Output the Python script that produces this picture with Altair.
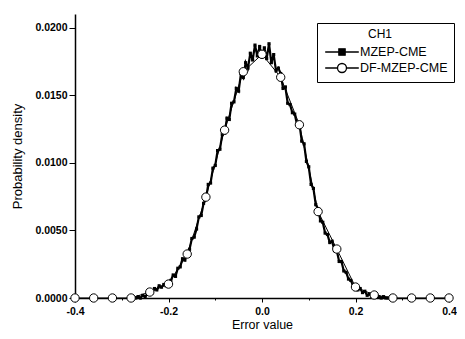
import altair as alt
import pandas as pd

# MZEP-CME histogram (noisy), x from -0.27 step 0.005
mzep_y = [
    0.0000, 0.0001, 0.0000, 0.0002, 0.0001, 0.0003, 0.0004, 0.0004, 0.0007, 0.0006,
    0.0009, 0.0008, 0.0010, 0.0009, 0.0012, 0.0013, 0.0017, 0.0016, 0.0022, 0.0023,
    0.0029, 0.0028, 0.0034, 0.0036, 0.0044, 0.0045, 0.0051, 0.0060, 0.0061, 0.0070,
    0.0073, 0.0084, 0.0085, 0.0096, 0.0098, 0.0109, 0.0110, 0.0121, 0.0122, 0.0133,
    0.0132, 0.0144, 0.0145, 0.0155, 0.0153, 0.0166, 0.0163, 0.0174, 0.0170, 0.0181,
    0.0176, 0.0187, 0.0179, 0.0186, 0.0178, 0.0185, 0.0177, 0.0188, 0.0174, 0.0180,
    0.0168, 0.0170, 0.0166, 0.0155, 0.0156, 0.0144, 0.0143, 0.0137, 0.0136, 0.0128,
    0.0129, 0.0116, 0.0114, 0.0101, 0.0097, 0.0084, 0.0081, 0.0069, 0.0066, 0.0057,
    0.0056, 0.0048, 0.0047, 0.0041, 0.0042, 0.0035, 0.0035, 0.0027, 0.0027, 0.0020,
    0.0019, 0.0014, 0.0013, 0.0009, 0.0009, 0.0006, 0.0007, 0.0004, 0.0005, 0.0002,
    0.0003, 0.0001, 0.0002, 0.0001, 0.0001, 0.0000, 0.0001, 0.0000, 0.0000,
]
mzep_x = [round(-0.27 + 0.005 * i, 3) for i in range(len(mzep_y))]

# DF-MZEP-CME (circle markers)
df_x = [-0.40, -0.36, -0.32, -0.28, -0.24, -0.20, -0.16, -0.12, -0.08, -0.04, 0.00,
        0.04, 0.08, 0.12, 0.16, 0.20, 0.24, 0.28, 0.32, 0.36, 0.40]
df_y = [0.0, 0.0, 0.0, 0.0, 0.00044, 0.00103, 0.00325, 0.00746, 0.01241, 0.01673, 0.01802,
        0.01632, 0.01281, 0.00639, 0.00362, 0.00081, 0.00022, 0.0, 0.0, 0.0, 0.0]

series_names = ["MZEP-CME", "DF-MZEP-CME"]
x_tick_values = [-0.4, -0.3, -0.2, -0.1, 0.0, 0.1, 0.2, 0.3, 0.4]
y_tick_values = [0.0, 0.00125, 0.0025, 0.00375, 0.005, 0.00625, 0.0075, 0.00875, 0.01,
                 0.01125, 0.0125, 0.01375, 0.015, 0.01625, 0.0175, 0.01875, 0.02]

mz = pd.DataFrame({"x": mzep_x, "y": mzep_y, "series": series_names[0]})
dfm = pd.DataFrame({"x": df_x, "y": df_y, "series": series_names[1]})
both = pd.concat([mz, dfm], ignore_index=True)

FONT = "Liberation Sans"
xs = alt.Scale(domain=[-0.4, 0.4], nice=False)
ys = alt.Scale(domain=[0, 0.021], nice=False, zero=False)

x_minor = "abs(round(datum.value*10)) % 2 == 1"
y_minor = "abs(round(datum.value*800)) % 2 == 1"

x_axis = alt.Axis(
    values=x_tick_values,
    labelExpr="(" + x_minor + ") ? '' : replace(format(datum.value, '.1f'), '\u2212', '-')",
    tickSize={"condition": {"test": x_minor, "value": 2}, "value": 4},
    labelPadding=4, labelFont=FONT, labelFontSize=10.5, labelFontWeight="bold",
    labelColor="black", titleFont=FONT, titleFontSize=12.5, titleFontWeight="normal",
    titleColor="black", titlePadding=2, domainColor="black", domainWidth=1.5,
    tickColor="black", tickWidth=1, grid=False, labelFlush=False, labelOverlap=False,
)
y_axis = alt.Axis(
    values=y_tick_values,
    labelExpr="(" + y_minor + ") ? '' : format(datum.value, '.4f')",
    tickSize={"condition": {"test": y_minor, "value": 3}, "value": 6},
    labelPadding=2, labelFont=FONT, labelFontSize=10.5, labelFontWeight="bold",
    labelColor="black", titleFont=FONT, titleFontSize=13, titleFontWeight="normal",
    titleColor="black", titlePadding=10, domainColor="black", domainWidth=1.5,
    tickColor="black", tickWidth=1, grid=False, labelFlush=False, labelOverlap=False,
)

X = alt.X("x:Q", scale=xs, axis=x_axis, title="Error value")
Y = alt.Y("y:Q", scale=ys, axis=y_axis, title="Probability density")

mz_line = alt.Chart(mz).mark_line(color="black", strokeWidth=2.2).encode(x=X, y=Y)
mz_pts = alt.Chart(mz).mark_point(shape="square", filled=True, color="black",
                                  size=10, opacity=1).encode(x="x:Q", y="y:Q")
df_line = alt.Chart(dfm).mark_line(color="black", strokeWidth=1).encode(x="x:Q", y="y:Q")
df_pts = alt.Chart(dfm).mark_point(shape="circle", filled=True, fill="white",
                                   stroke="black", strokeWidth=1, size=70,
                                   opacity=1).encode(x="x:Q", y="y:Q")

sq_path = "M-2.4,0H2.4M-0.45,-0.45H0.45V0.45H-0.45Z"
circ_path = ("M-2.4,0H-0.64M0.64,0H2.4M0.64,0A0.64,0.64 0 1,1 -0.64,0"
             "A0.64,0.64 0 1,1 0.64,0Z")

leg = alt.Legend(
    title="\u2800" * 5 + "CH1", orient="none", legendX=242, legendY=9,
    strokeColor="black", padding=6, symbolSize=196, symbolStrokeColor="black",
    symbolStrokeWidth=1.3, symbolOffset=11, labelOffset=10, labelFont=FONT,
    labelFontSize=12.5, labelColor="black", titleFont=FONT, titleFontSize=12,
    titleFontWeight="normal", titleColor="black", titlePadding=3, rowPadding=1,
    symbolOpacity=1,
)
legend_layer = alt.Chart(both).mark_point(filled=True, strokeWidth=1.3).encode(
    x="x:Q", y="y:Q",
    shape=alt.Shape("series:N", scale=alt.Scale(domain=series_names, range=[sq_path, circ_path]), legend=leg),
    fill=alt.Fill("series:N", scale=alt.Scale(domain=series_names, range=["black", "white"]), legend=leg),
    stroke=alt.Stroke("series:N", scale=alt.Scale(domain=series_names, range=["black", "black"]), legend=leg),
).transform_filter("false")

chart = alt.layer(mz_line, mz_pts, df_line, df_pts, legend_layer).properties(
    width=374, height=284,
    autosize=alt.AutoSizeParams(type="none"),
    padding={"left": 67, "top": 6, "right": 8, "bottom": 33},
).configure_view(stroke=None)

chart.save("out.html", embed_options={"renderer": "svg", "actions": False})
